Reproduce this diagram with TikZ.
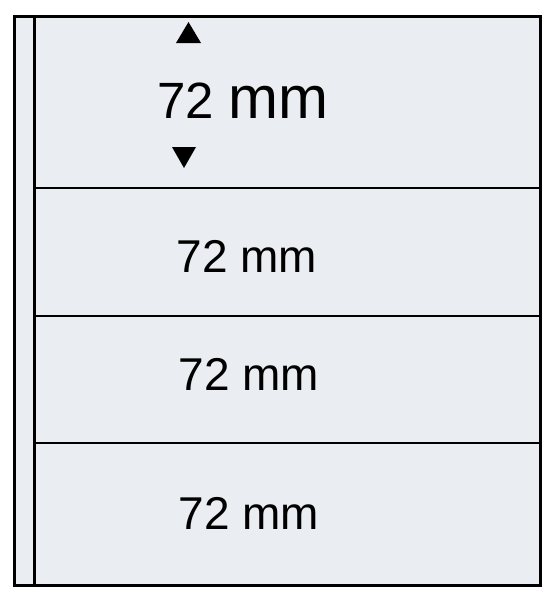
\documentclass[tikz,border=0pt]{standalone}
\usepackage{fontspec}
\setmainfont{Liberation Sans}
\usetikzlibrary{positioning}
\definecolor{sheet}{HTML}{EAEEF2}
\tikzstyle{frame}  =[draw=black,line width=3pt,fill=sheet]
\tikzstyle{strip}  =[draw=black,line width=1.5pt]
\tikzstyle{label}  =[inner sep=0pt,anchor=base,font=\fontsize{46}{50}\selectfont]
\tikzstyle{marker} =[fill=black]

\begin{document}
\begin{tikzpicture}[x=1pt,y=-1pt]
\useasboundingbox (0,0) rectangle (551,600);
% sheet with binding edge
\draw [frame] (14,16) rectangle (540,585);
\draw [frame] (14,16) -- (34,16) (34,16) -- (34,585);
% strips
\coordinate (s1l) at (34,188);  \coordinate (s1r) at (540,188);
\coordinate (s2l) at (34,316);  \coordinate (s2r) at (540,316);
\coordinate (s3l) at (34,443);  \coordinate (s3r) at (540,443);
\draw [strip] (s1l) -- (s1r);
\draw [strip] (s2l) -- (s2r);
\draw [strip] (s3l) -- (s3r);
% heights
\node [label] (h1) at (243,118) {\fontsize{51}{55}\selectfont 72 {\fontsize{60}{64}\selectfont mm}};
\node [label] (h2) at (247,272) {72 mm};
\node [label] (h3) at (249,390) {72 mm};
\node [label] (h4) at (249,529) {72 mm};
% arrows of first strip
\fill [marker] (176,43) -- (201,43) -- (188.5,22) -- cycle;
\fill [marker] (172,147) -- (196,147) -- (184,168) -- cycle;
\end{tikzpicture}
\end{document}
